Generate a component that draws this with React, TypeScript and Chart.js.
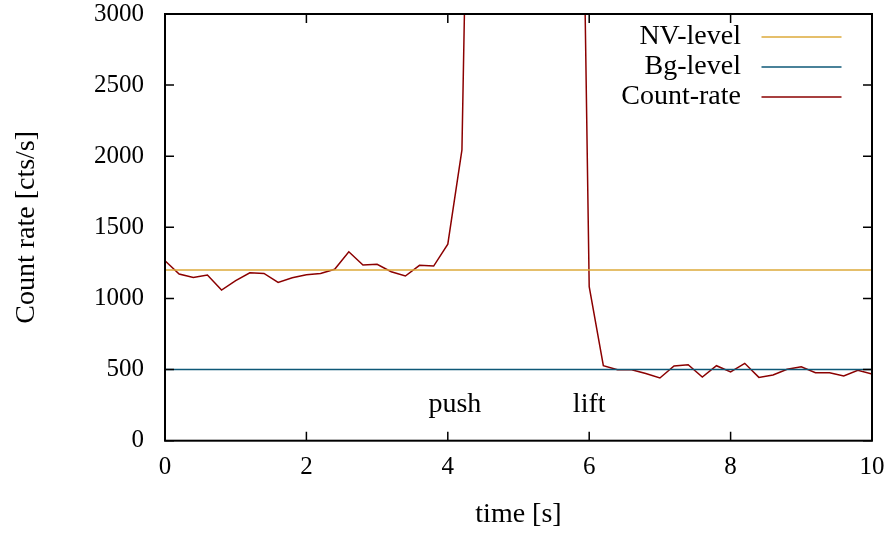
import React, { useEffect, useRef } from 'react';
import { Chart, registerables } from 'chart.js';

Chart.register(...registerables);

// ---- data ----
const timeS = [
  0, 0.2, 0.4, 0.6, 0.8, 1.0, 1.2, 1.4, 1.6, 1.8,
  2.0, 2.2, 2.4, 2.6, 2.8, 3.0, 3.2, 3.4, 3.6, 3.8,
  4.0, 4.2, 4.4, 4.6, 4.8, 5.0, 5.2, 5.4, 5.6, 5.8,
  6.0, 6.2, 6.4, 6.6, 6.8, 7.0, 7.2, 7.4, 7.6, 7.8,
  8.0, 8.2, 8.4, 8.6, 8.8, 9.0, 9.2, 9.4, 9.6, 9.8, 10.0,
];
const countRate = [
  1265, 1172, 1148, 1165, 1059, 1125, 1181, 1176, 1113, 1146,
  1167, 1176, 1205, 1328, 1235, 1240, 1188, 1158, 1233, 1228,
  1382, 2045, 7500, 9800, 10500, 11000, 10800, 10200, 9500, 7800,
  1083, 527, 499, 499, 473, 441, 525, 534, 448, 527,
  483, 544, 445, 462, 502, 520, 478, 478, 455, 495, 469,
];
const levelTimes = [0, 10];
const nvLevel = [1200, 1200];
const bgLevel = [500, 500];

const seriesNames = ['NV-level', 'Bg-level', 'Count-rate'];
const seriesColors = ['#dcaa3a', '#0e5877', '#8b0000'];

const annotationTexts = ['push', 'lift'];
const annotationX = [4.1, 6.0];
const annotationY = [204, 204];

const xTitle = 'time [s]';
const yTitle = 'Count rate [cts/s]';

const FONT = "'Liberation Serif', 'Times New Roman', serif";

const framePlugin = {
  id: 'gnuplotFrame',
  afterDatasetsDraw(chart: any) {
    const { ctx, chartArea: a, scales } = chart;
    const xs = scales.x;
    const ys = scales.y;
    ctx.save();
    // ticks (inward, mirrored)
    ctx.strokeStyle = '#000';
    ctx.lineWidth = 1.5;
    const tl = 9;
    ctx.beginPath();
    xs.ticks.forEach((t: any) => {
      const px = xs.getPixelForValue(t.value);
      ctx.moveTo(px, a.bottom);
      ctx.lineTo(px, a.bottom - tl);
      ctx.moveTo(px, a.top);
      ctx.lineTo(px, a.top + tl);
    });
    ys.ticks.forEach((t: any) => {
      const py = ys.getPixelForValue(t.value);
      ctx.moveTo(a.left, py);
      ctx.lineTo(a.left + tl, py);
      ctx.moveTo(a.right, py);
      ctx.lineTo(a.right - tl, py);
    });
    ctx.stroke();
    // border
    ctx.lineWidth = 2;
    ctx.strokeRect(a.left, a.top, a.right - a.left, a.bottom - a.top);

    // annotations
    ctx.fillStyle = '#000';
    ctx.font = `28px ${FONT}`;
    ctx.textAlign = 'center';
    ctx.textBaseline = 'alphabetic';
    annotationTexts.forEach((txt, i) => {
      ctx.fillText(txt, xs.getPixelForValue(annotationX[i]), ys.getPixelForValue(annotationY[i]));
    });

    // legend (gnuplot style, text right-aligned, sample on the right)
    ctx.textAlign = 'right';
    ctx.textBaseline = 'middle';
    seriesNames.forEach((name, i) => {
      const y = a.top + 23 + i * 30;
      ctx.fillStyle = '#000';
      ctx.fillText(name, a.right - 131, y);
      ctx.strokeStyle = seriesColors[i];
      ctx.lineWidth = 1.5;
      ctx.beginPath();
      ctx.moveTo(a.right - 110.5, y);
      ctx.lineTo(a.right - 30.5, y);
      ctx.stroke();
    });
    ctx.restore();
  },
};

export default function App() {
  const ref = useRef<HTMLCanvasElement | null>(null);
  useEffect(() => {
    if (!ref.current) return;
    const mk = (xsArr: number[], ysArr: number[]) => xsArr.map((x, i) => ({ x, y: ysArr[i] }));
    const chart = new Chart(ref.current, {
      type: 'line',
      data: {
        datasets: [
          {
            label: seriesNames[0],
            data: mk(levelTimes, nvLevel),
            borderColor: seriesColors[0],
            borderWidth: 1.5,
            pointRadius: 0,
            tension: 0,
          },
          {
            label: seriesNames[1],
            data: mk(levelTimes, bgLevel),
            borderColor: seriesColors[1],
            borderWidth: 1.5,
            pointRadius: 0,
            tension: 0,
          },
          {
            label: seriesNames[2],
            data: mk(timeS, countRate),
            borderColor: seriesColors[2],
            borderWidth: 1.5,
            pointRadius: 0,
            tension: 0,
          },
        ],
      },
      options: {
        animation: false,
        responsive: false,
        devicePixelRatio: 1,
        layout: { padding: { top: 14, right: 22, bottom: 0, left: 0 } },
        plugins: { legend: { display: false }, tooltip: { enabled: false } },
        scales: {
          x: {
            type: 'linear',
            min: 0,
            max: 10,
            grid: { display: false, drawTicks: false },
            border: { display: false },
            ticks: {
              stepSize: 2,
              color: '#000',
              padding: 12,
              font: { family: FONT, size: 25 },
              callback: (v: any) => String(v),
            },
            title: { display: true, text: xTitle, color: '#000', font: { family: FONT, size: 28 }, padding: { top: 0, bottom: 3 } },
            afterFit(scale: any) {
              scale.height = 93.3;
              scale.paddingLeft = 0;
              scale.paddingRight = 0;
            },
          },
          y: {
            type: 'linear',
            min: 0,
            max: 3000,
            grid: { display: false, drawTicks: false },
            border: { display: false },
            ticks: {
              stepSize: 500,
              color: '#000',
              padding: 21,
              font: { family: FONT, size: 25 },
              callback: (v: any) => String(v),
            },
            title: { display: true, text: yTitle, color: '#000', font: { family: FONT, size: 28 }, padding: { top: 10, bottom: 0 } },
            afterFit(scale: any) {
              scale.width = 165;
              scale.paddingTop = 0;
              scale.paddingBottom = 0;
            },
          },
        },
      },
      plugins: [framePlugin],
    });
    return () => chart.destroy();
  }, []);
  return (
    <div style={{ position: 'fixed', left: 0, top: 0, width: 894, height: 534, background: '#fff' }}>
      <canvas ref={ref} width={894} height={534} style={{ display: 'block' }} />
    </div>
  );
}
